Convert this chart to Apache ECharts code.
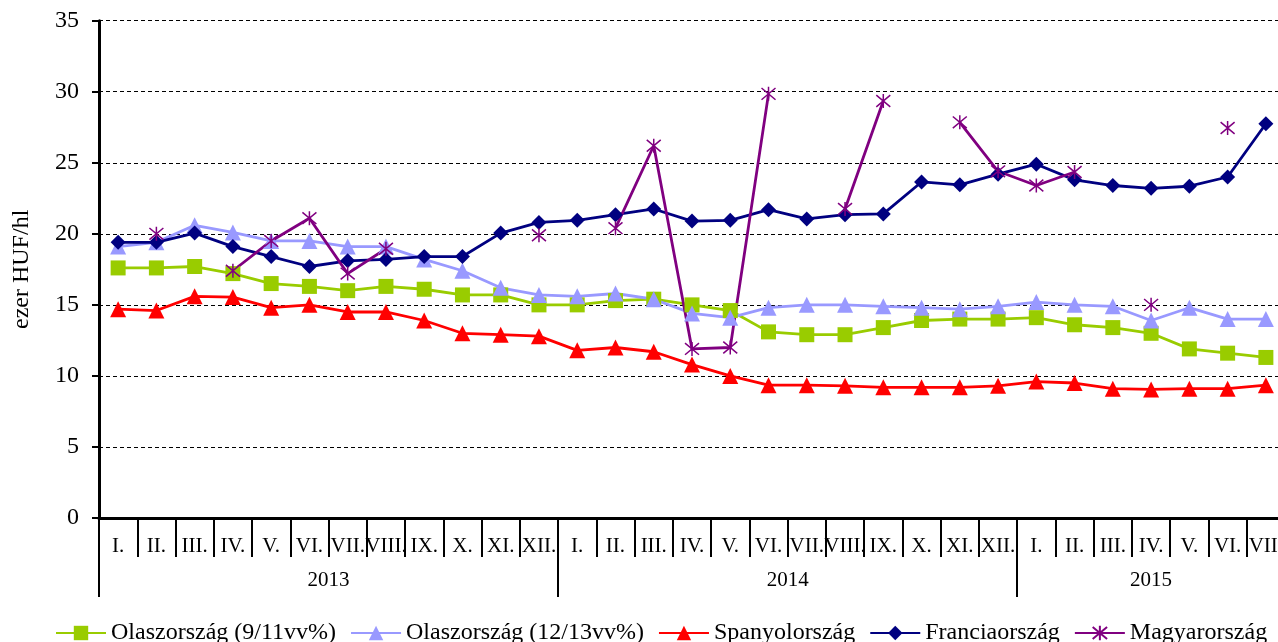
<!DOCTYPE html>
<html><head><meta charset="utf-8">
<script src="https://cdn.jsdelivr.net/npm/echarts@6/dist/echarts.min.js"></script>
<style>html,body{margin:0;padding:0;background:#fff}#c{width:1278px;height:642px}</style>
</head><body><div id="c"></div>
<script>
const monthNames = ['I.','II.','III.','IV.','V.','VI.','VII.','VIII.','IX.','X.','XI.','XII.'];
const years = ['2013','2014','2015'];
const monthsPerYear = [12, 12, 7];
const yTicks = [0, 5, 10, 15, 20, 25, 30, 35];

const italy911 = [17.6,17.6,17.7,17.2,16.5,16.3,16.0,16.3,16.1,15.7,15.7,15.0,
                  15.0,15.3,15.4,15.0,14.6,13.1,12.9,12.9,13.4,13.9,14.0,14.0,
                  14.1,13.6,13.4,13.0,11.9,11.6,11.3];
const italy1213 = [19.1,19.4,20.6,20.1,19.5,19.5,19.1,19.1,18.2,17.4,16.2,15.7,
                   15.6,15.8,15.4,14.4,14.1,14.8,15.0,15.0,14.9,14.8,14.7,14.9,
                   15.2,15.0,14.9,13.9,14.8,14.0,14.0];
const spain = [14.7,14.6,15.6,15.55,14.8,15.0,14.5,14.5,13.9,13.0,12.9,12.8,
               11.8,12.0,11.7,10.8,10.0,9.35,9.35,9.3,9.2,9.2,9.2,9.3,
               9.6,9.5,9.1,9.05,9.1,9.1,9.35];
const france = [19.4,19.4,20.05,19.1,18.4,17.7,18.1,18.2,18.4,18.4,20.05,20.8,
                20.95,21.35,21.75,20.9,20.95,21.7,21.05,21.35,21.4,23.65,23.45,24.2,
                24.9,23.8,23.4,23.2,23.35,24.0,27.75];
const hungary = [null,20.0,null,17.4,19.5,21.1,17.2,18.95,null,null,null,19.9,
                 null,20.4,26.2,11.9,12.0,29.85,null,21.75,29.35,null,27.85,24.4,
                 23.4,24.35,null,15.0,null,27.45,null];

const seriesNames = ['Olaszország (9/11vv%)','Olaszország (12/13vv%)','Spanyolország','Franciaország','Magyarország'];

// month categories
const categories = [];
monthsPerYear.forEach(n => { for (let i = 0; i < n; i++) categories.push(monthNames[i]); });

// year level axis: two slots per month, boundaryGap false
const yearTickIdx = new Set();
const yearLabelAt = {};
let start = 0;
years.forEach((y, i) => {
  yearTickIdx.add(2 * start);
  yearLabelAt[2 * start + monthsPerYear[i]] = y;
  start += monthsPerYear[i];
});
yearTickIdx.add(2 * start);
const yearSlots = [];
for (let k = 0; k <= 2 * start; k++) yearSlots.push('s' + k);

const FONT = '"Liberation Serif", "Times New Roman", serif';
const starPath = 'path://M0,0L10,10M10,0L0,10M5,-1L5,11';

const chart = echarts.init(document.getElementById('c'));
function lineSeries(name, data, color, symbol, size, extra) {
  return Object.assign({
    name, type: 'line', data, symbol, symbolSize: size,
    lineStyle: { color, width: 2.8 },
    itemStyle: { color },
    connectNulls: false,
    showAllSymbol: true,
    animation: false
  }, extra || {});
}
chart.setOption({
  animation: false,
  textStyle: { fontFamily: FONT, color: '#000' },
  grid: { left: 99, right: -7, top: 20.7, bottom: 124, containLabel: false, outerBoundsMode: 'none' },
  xAxis: [{
    type: 'category', data: categories, boundaryGap: true, position: 'bottom',
    axisLine: { show: true, lineStyle: { color: '#000', width: 3 } },
    axisTick: { show: true, interval: 0, length: 39, lineStyle: { color: '#000', width: 2 } },
    axisLabel: { interval: 0, margin: 18, fontSize: 21, fontFamily: FONT, color: '#000' },
    splitLine: { show: false }
  }, {
    type: 'category', data: yearSlots, boundaryGap: false, position: 'bottom', offset: 0,
    axisLine: { show: false },
    axisTick: { show: true, length: 79, interval: (idx) => yearTickIdx.has(idx), lineStyle: { color: '#000', width: 2 } },
    axisLabel: { interval: (idx) => yearLabelAt[idx] !== undefined, formatter: (v, idx) => yearLabelAt[idx] || '',
                 margin: 52, fontSize: 21, fontFamily: FONT, color: '#000' },
    splitLine: { show: false }
  }],
  yAxis: {
    type: 'value', min: yTicks[0], max: yTicks[yTicks.length - 1], interval: yTicks[1] - yTicks[0],
    name: 'ezer HUF/hl', nameLocation: 'middle', nameGap: 65,
    nameTextStyle: { fontSize: 24, fontFamily: FONT, color: '#000' },
    axisLine: { show: true, lineStyle: { color: '#000', width: 3 } },
    axisTick: { show: true, length: 7, lineStyle: { color: '#000', width: 2 } },
    axisLabel: { margin: 20, fontSize: 24, fontFamily: FONT, color: '#000' },
    splitLine: { show: true, lineStyle: { color: '#000', width: 1, type: [4, 3] } }
  },
  legend: {
    left: 50, top: 616, itemWidth: 50, itemHeight: 18, itemGap: 14,
    textStyle: { fontSize: 24, fontFamily: FONT, color: '#000' },
    data: seriesNames
  },
  series: [
    lineSeries(seriesNames[0], italy911, '#99CC00', 'rect', 15),
    lineSeries(seriesNames[1], italy1213, '#9999FF', 'triangle', 16),
    lineSeries(seriesNames[2], spain, '#FF0000', 'triangle', 16),
    lineSeries(seriesNames[3], france, '#000080', 'diamond', 15),
    lineSeries(seriesNames[4], hungary, '#800080', starPath, 14, {
      itemStyle: { color: '#800080', borderColor: '#800080', borderWidth: 1.5 }
    })
  ]
});
</script></body></html>
